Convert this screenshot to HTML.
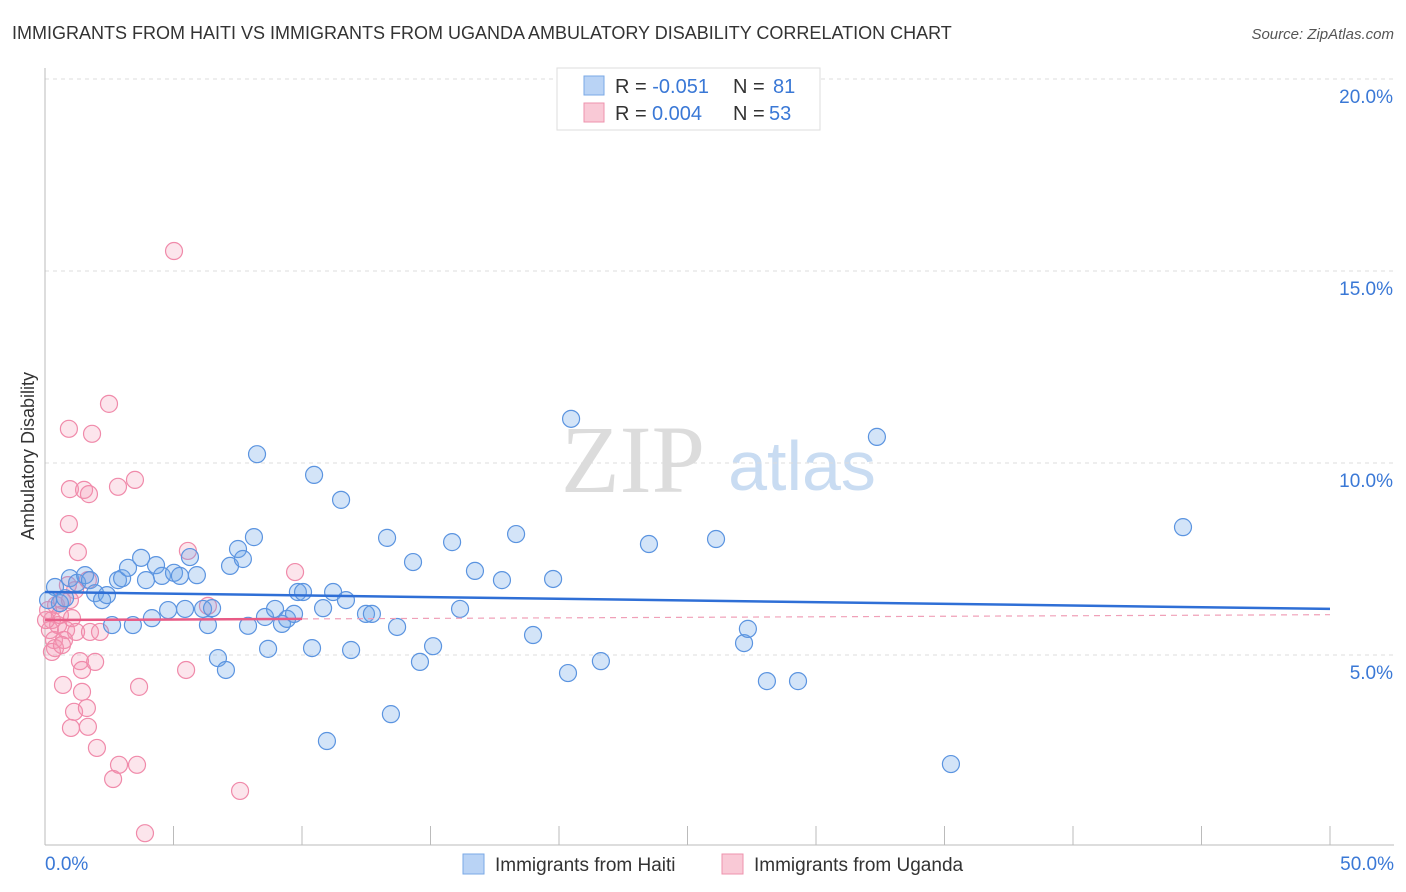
<!DOCTYPE html>
<html><head><meta charset="utf-8"><style>
body{margin:0;background:#fff;font-family:"Liberation Sans",sans-serif}
svg{display:block}
</style></head><body>
<svg id="chart" width="1406" height="892" viewBox="0 0 1406 892" xmlns="http://www.w3.org/2000/svg" font-family="Liberation Sans, sans-serif">
<text x="12" y="39" font-size="18" fill="#333">IMMIGRANTS FROM HAITI VS IMMIGRANTS FROM UGANDA AMBULATORY DISABILITY CORRELATION CHART</text>
<text x="1394" y="39" font-size="15" fill="#555" text-anchor="end" font-style="italic">Source: ZipAtlas.com</text>
<text transform="translate(34,456) rotate(-90)" font-size="18" fill="#333" text-anchor="middle">Ambulatory Disability</text>
<g>
<text x="633" y="492" font-size="96" font-family="Liberation Serif, serif" fill="#dcdcdc" text-anchor="middle">ZIP</text>
<text x="802" y="490" font-size="70" fill="#c9dcf2" text-anchor="middle">atlas</text>
</g>
<g id="grid"></g>
<g id="axes"></g>
<g id="pts"></g>
<g id="trend"></g>
<g>
<rect x="557" y="68" width="263" height="62" fill="#fff" stroke="#ddd"/>
<rect x="584" y="76" width="20" height="19" fill="#b9d3f5" stroke="#7aa8e6"/>
<text x="615" y="93" font-size="20" fill="#333">R = <tspan fill="#3a78d6">-0.051</tspan><tspan x="733">N = </tspan><tspan x="773" fill="#3a78d6">81</tspan></text>
<rect x="584" y="103" width="20" height="19" fill="#f9c9d6" stroke="#ee93ad"/>
<text x="615" y="120" font-size="20" fill="#333">R = <tspan x="652" fill="#3a78d6">0.004</tspan><tspan x="733">N = </tspan><tspan x="769" fill="#3a78d6">53</tspan></text>
</g>
<g>
<rect x="463" y="854" width="21" height="20" fill="#b9d3f5" stroke="#7aa8e6"/>
<text x="495" y="871" font-size="19" fill="#333">Immigrants from Haiti</text>
<rect x="722" y="854" width="21" height="20" fill="#f9c9d6" stroke="#ee93ad"/>
<text x="754" y="871" font-size="19" fill="#333">Immigrants from Uganda</text>
</g>
</svg>
<script>
const haitiX=[0.39,0.58,0.78,0.97,1.25,1.56,1.75,1.95,2.22,2.41,2.61,2.84,3.0,3.23,3.42,3.74,3.93,4.16,4.32,4.55,4.79,5.02,5.25,5.45,5.64,5.91,6.15,6.34,6.5,6.73,7.04,7.2,7.51,7.7,7.9,8.13,8.25,8.56,8.68,8.95,9.22,9.42,9.69,9.84,10.04,10.39,10.47,10.82,10.97,11.21,11.52,11.71,11.91,12.49,12.72,13.31,13.46,13.7,14.32,14.59,15.1,15.84,16.15,16.73,17.78,18.33,18.99,19.77,20.35,20.47,21.63,23.5,26.11,27.2,27.35,28.09,29.3,32.37,35.25,44.28,0.12];
const haitiY=[6.77,6.35,6.48,7.0,6.88,7.08,6.95,6.61,6.43,6.56,5.78,6.95,7.0,7.27,5.78,7.53,6.95,5.96,7.34,7.06,6.17,7.14,7.06,6.2,7.55,7.08,6.2,5.78,6.22,4.92,4.61,7.32,7.76,7.5,5.76,8.07,10.23,5.99,5.16,6.2,5.81,5.94,6.07,6.64,6.64,5.18,9.69,6.22,2.76,6.64,9.04,6.43,5.13,6.07,6.07,8.05,3.46,5.73,7.42,4.82,5.23,7.94,6.2,7.19,6.95,8.15,5.52,6.98,4.53,11.15,4.84,7.89,8.02,5.31,5.68,4.32,4.32,10.68,2.16,8.33,6.43];
const ugandaX=[0.43,0.66,0.93,0.97,0.93,1.01,1.13,0.7,1.28,1.36,1.44,1.44,1.52,1.63,1.67,1.71,1.83,1.95,2.02,2.49,2.65,2.84,2.88,3.5,3.58,3.66,3.89,5.02,5.49,5.56,6.34,7.59,9.73,0.27,0.19,0.35,0.51,0.12,0.58,0.82,1.05,1.21,0.04,0.39,0.74,1.67,1.17,0.97,0.27,0.66,1.75,0.89,2.14];
const ugandaY=[6.3,6.43,10.89,9.32,8.41,3.1,3.52,4.22,7.68,4.84,4.61,4.04,9.3,3.62,3.13,9.19,10.76,4.82,2.58,11.54,1.77,9.38,2.14,9.56,2.14,4.17,0.36,15.52,4.61,7.71,6.28,1.46,7.16,5.91,5.65,5.39,5.78,6.17,6.04,5.65,5.96,5.6,5.91,5.18,5.39,6.95,6.69,6.43,5.08,5.26,5.6,6.82,5.6];
const yTicks=[5,10,15,20];
const yTickLabels=["5.0%","10.0%","15.0%","20.0%"];
const xTickLabels=["0.0%","50.0%"];
const haitiTrend=[6.64,6.2];
const ugandaTrend=[5.91,5.94,6.05];

const NS="http://www.w3.org/2000/svg";
const X0=45,X1=1330,Y0=847;
const sx=v=>X0+(v/50)*(X1-X0);
const sy=v=>Y0-v*38.4;
function mk(tag,attrs,parent){const e=document.createElementNS(NS,tag);for(const k in attrs)e.setAttribute(k,attrs[k]);parent.appendChild(e);return e;}
const grid=document.getElementById('grid'),axes=document.getElementById('axes'),pts=document.getElementById('pts'),trend=document.getElementById('trend');
yTicks.forEach((t,i)=>{
  const l=mk('line',{x1:X0,x2:1394,y1:sy(t),y2:sy(t),stroke:'#ddd','stroke-dasharray':'4,4'},grid);
  
  
  const tx=mk('text',{x:1393,y:sy(t)+24,'font-size':19,fill:'#3a78d6','text-anchor':'end'},grid);
  tx.textContent=yTickLabels[i];
  
  
});
const ax=mk('line',{x1:X0,x2:X0,y1:68,y2:845,stroke:'#bbb'},axes);


const bx=mk('line',{x1:X0,x2:1394,y1:845,y2:845,stroke:'#bbb'},axes);


for(let i=0;i<=10;i++){
  const t=mk('line',{x1:sx(i*5),x2:sx(i*5),y1:826,y2:845,stroke:'#bbb'},axes);
  
  
}
[[0,'start',45],[50,'end',1394]].forEach((d,i)=>{
  const tx=mk('text',{x:d[2],y:870,'font-size':19,fill:'#3a78d6','text-anchor':d[1]},axes);
  tx.textContent=xTickLabels[i];
  
  
});
ugandaX.forEach((x,i)=>{
  const c=mk('circle',{cx:sx(x),cy:sy(ugandaY[i]),r:8.5,fill:'rgba(244,150,178,0.25)',stroke:'#f08aaa','stroke-width':1.2},pts);
  
  
});
haitiX.forEach((x,i)=>{
  const c=mk('circle',{cx:sx(x),cy:sy(haitiY[i]),r:8.5,fill:'rgba(110,165,232,0.3)',stroke:'#5b94e0','stroke-width':1.2},pts);
  
  
});
const hl=mk('line',{x1:sx(0),y1:sy(haitiTrend[0]),x2:sx(50),y2:sy(haitiTrend[1]),stroke:'#2f6fd6','stroke-width':2.5},trend);


const ul=mk('line',{x1:sx(0),y1:sy(ugandaTrend[0]),x2:sx(10),y2:sy(ugandaTrend[1]),stroke:'#e85b86','stroke-width':2.5},trend);


const ud=mk('line',{x1:sx(10),y1:sy(ugandaTrend[1]),x2:sx(50),y2:sy(ugandaTrend[2]),stroke:'#f0a0b8','stroke-width':1.2,'stroke-dasharray':'6,5'},trend);


</script>
</body></html>
